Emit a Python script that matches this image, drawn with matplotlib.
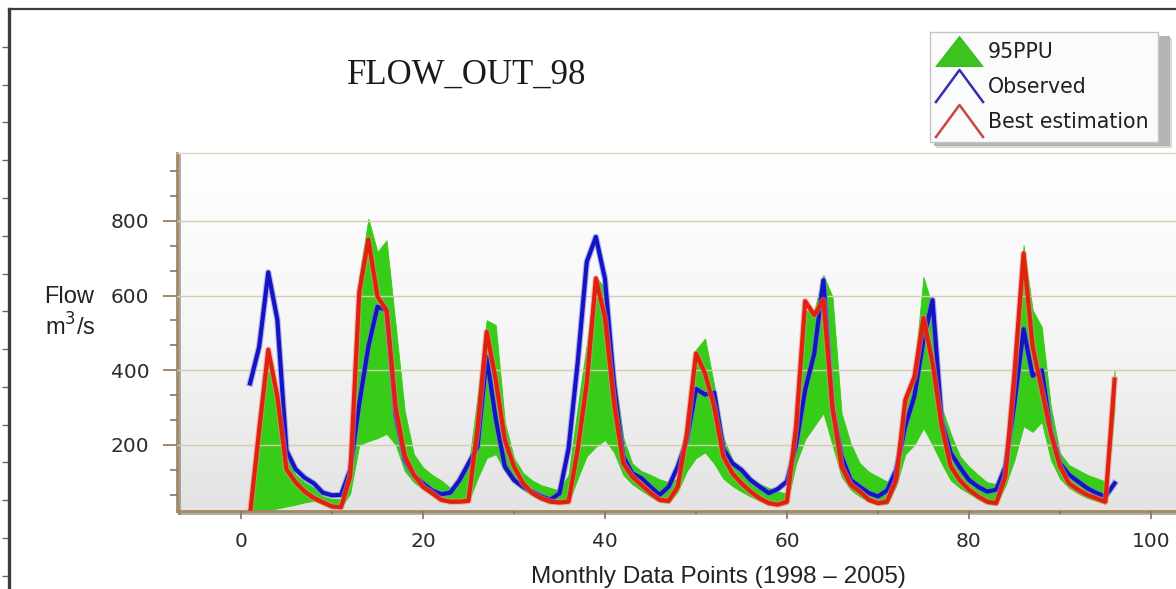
import numpy as np
import matplotlib
matplotlib.use("Agg")
import matplotlib.pyplot as plt
import matplotlib.patheffects as pe
from matplotlib.colors import LinearSegmentedColormap
from matplotlib.lines import Line2D
from matplotlib.patches import Rectangle
from matplotlib.path import Path
from matplotlib.ticker import MultipleLocator
from matplotlib.transforms import IdentityTransform

# Monthly flow at the outlet, 1998-2005 (m^3/s)
months = np.arange(1, 97)

observed = [
    365, 463, 662, 535, 185, 135, 112, 97, 72, 65, 66, 133,
    311, 463, 570, 561, 280, 160, 118, 97, 78, 68, 72, 105,
    150, 195, 436, 270, 142, 106, 88, 75, 62, 53, 70, 190,
    420, 690, 757, 645, 360, 170, 124, 111, 88, 66, 88, 142,
    213, 350, 335, 340, 190, 151, 133, 106, 88, 71, 82, 102,
    200, 347, 445, 641, 300, 170, 106, 88, 71, 62, 78, 133,
    250, 330, 480, 588, 263, 178, 140, 106, 88, 75, 80, 142,
    311, 510, 385, 400, 236, 151, 120, 102, 84, 71, 62, 97,
]

best_estimation = [
    15, 240, 455, 330, 135, 100, 75, 58, 46, 35, 33, 115,
    610, 750, 597, 561, 300, 170, 120, 88, 71, 53, 48, 48,
    50, 245, 503, 374, 213, 142, 97, 71, 57, 48, 46, 48,
    187, 365, 646, 540, 311, 151, 115, 93, 71, 53, 50, 88,
    231, 445, 391, 302, 169, 124, 97, 75, 57, 44, 40, 48,
    250, 585, 548, 588, 300, 142, 93, 75, 53, 44, 48, 106,
    320, 382, 540, 420, 250, 142, 105, 80, 62, 48, 44, 115,
    391, 713, 463, 347, 231, 142, 97, 80, 66, 57, 48, 375,
]

ppu_lower = [
    0, 18, 24, 30, 35, 40, 46, 50, 42, 33, 32, 70,
    200, 210, 218, 230, 200, 130, 100, 82, 65, 50, 45, 45,
    48, 110, 165, 175, 130, 100, 80, 65, 52, 45, 42, 45,
    110, 170, 195, 213, 180, 120, 95, 78, 62, 48, 45, 75,
    130, 165, 180, 150, 110, 90, 75, 62, 50, 40, 38, 42,
    150, 215, 250, 285, 200, 115, 80, 62, 48, 40, 42, 90,
    175, 200, 245, 200, 150, 105, 85, 70, 55, 42, 40, 90,
    160, 250, 235, 262, 160, 110, 85, 70, 58, 50, 42, 300,
]

ppu_upper = [
    15, 230, 440, 330, 170, 120, 100, 85, 62, 55, 55, 110,
    650, 806, 717, 748, 520, 290, 175, 140, 120, 105, 85, 100,
    140, 330, 534, 521, 260, 165, 125, 105, 92, 85, 78, 120,
    300, 470, 650, 620, 400, 220, 150, 130, 120, 108, 100, 110,
    240, 455, 485, 360, 220, 160, 130, 110, 95, 85, 75, 70,
    230, 560, 560, 655, 597, 285, 204, 151, 128, 115, 102, 110,
    320, 400, 650, 570, 300, 230, 170, 142, 120, 100, 95, 124,
    365, 735, 561, 516, 302, 178, 146, 133, 120, 111, 102, 400,
]

x_ticks = [0, 20, 40, 60, 80, 100]
y_ticks = [200, 400, 600, 800]
legend_labels = ["95PPU", "Observed", "Best estimation"]

W, H = 1176, 589
fig = plt.figure(figsize=(W / 100, H / 100), dpi=100)
fig.patch.set_facecolor("white")


def px_box(left, top, right, bottom):
    """Figure-fraction rectangle from pixel edges measured from the top-left."""
    return [left / W, 1 - bottom / H, (right - left) / W, (bottom - top) / H]


# Outer frame with its small tick marks along the left edge
frame = fig.add_axes(px_box(9, 9, W + 5, H + 5), zorder=0)
frame.patch.set_visible(False)
frame.set_xlim(0, 1)
frame.set_ylim(H + 5, 9)
frame.set_xticks([])
frame.set_yticks([46.7 + 37.8 * k for k in range(15)])
frame.tick_params(axis="y", direction="out", length=5, width=1.0,
                  color="#666666", labelleft=False)
for side in ("right", "bottom"):
    frame.spines[side].set_visible(False)
frame.spines["left"].set_color("#3c3c3c")
frame.spines["left"].set_linewidth(2.4)
frame.spines["top"].set_color("#3c3c3c")
frame.spines["top"].set_linewidth(1.6)

# Main plotting area
ax = fig.add_axes(px_box(177, 153.3, 1190, 511), zorder=1)

bg = LinearSegmentedColormap.from_list("bg", ["#ffffff", "#f6f6f6", "#e3e3e3"])
ax.imshow(np.linspace(0, 1, 256).reshape(-1, 1), extent=(0, 1, 0, 1),
          transform=ax.transAxes, aspect="auto", cmap=bg, zorder=0,
          interpolation="bicubic")

ax.fill_between(months, ppu_lower, ppu_upper, color="#36cc18", lw=0.6,
                edgecolor="#36cc18", zorder=2)
ax.plot(months, observed, color="#1414c4", lw=3.0, zorder=3,
        solid_joinstyle="round",
        path_effects=[pe.Stroke(linewidth=4.6, foreground="#7b7be0", alpha=0.55),
                      pe.Normal()])
ax.plot(months, best_estimation, color="#e2200e", lw=3.0, zorder=4,
        solid_joinstyle="round",
        path_effects=[pe.Stroke(linewidth=4.6, foreground="#f08a80", alpha=0.55),
                      pe.Normal()])

ax.set_xlim(-7.03, 104.29)
ax.set_ylim(23, 981)
ax.set_xticks(x_ticks)
ax.set_yticks(y_ticks)
ax.xaxis.set_minor_locator(MultipleLocator(10))
ax.yaxis.set_minor_locator(MultipleLocator(200 / 3))
ax.grid(axis="y", which="major", color="#d8ccb0", lw=1.0, zorder=1)
ax.set_axisbelow(False)

tick_col = "#8c7450"
ax.tick_params(axis="y", which="major", direction="out", length=10, width=1.2,
               color=tick_col, pad=10, labelsize=14.5, labelcolor="#2b2b2b")
ax.tick_params(axis="y", which="minor", direction="out", length=5, width=1.2,
               color=tick_col)
ax.tick_params(axis="x", which="major", direction="out", length=6, width=1.2,
               color=tick_col, pad=9, labelsize=14.5, labelcolor="#2b2b2b")
ax.tick_params(axis="x", which="minor", direction="out", length=2.5, width=1.2,
               color=tick_col)

ax.spines["right"].set_visible(False)
ax.spines["top"].set_color("#e0d4b8")
ax.spines["top"].set_linewidth(1.0)
for side in ("left", "bottom"):
    sp = ax.spines[side]
    sp.set_color("#a48a5e")
    sp.set_linewidth(2.0)
    sp.set_path_effects([pe.SimpleLineShadow(offset=(1.2, -1.2),
                                             shadow_color="#555555", alpha=0.5),
                         pe.Normal()])

ax.set_xlabel("Monthly Data Points (1998 \u2013 2005)", family="Liberation Sans",
              fontsize=17.5, color="#222222")
ax.xaxis.label.set_va("baseline")
ax.xaxis.set_label_coords((718 - 177) / (1190 - 177), -(583 - 511) / (511 - 153.3))

# Axis title on the left, two lines
fig.text(44 / W, 1 - 303 / H, "Flow", family="Liberation Sans", fontsize=17,
         color="#222222", ha="left", va="baseline")
fig.text(45 / W, 1 - 336 / H, "m$^3$/s", family="Liberation Sans", fontsize=17,
         color="#222222", ha="left", va="baseline")

# Chart title
fig.text(347 / W, 1 - 84 / H, "FLOW_OUT_98", family="Liberation Serif",
         fontsize=25, color="#1a1a1a", ha="left", va="baseline")

# Legend with triangle / caret symbols
tri = Path([(-1, -0.64), (0, 0.64), (1, -0.64), (-1, -0.64)],
           [Path.MOVETO, Path.LINETO, Path.LINETO, Path.CLOSEPOLY])
caret = Path([(-1, -0.68), (0, 0.68), (1, -0.68)],
             [Path.MOVETO, Path.LINETO, Path.LINETO])
handles = [
    Line2D([], [], ls="none", marker=tri, markersize=34,
           markerfacecolor="#3cc41e", markeredgecolor="#2fb012",
           markeredgewidth=0.6),
    Line2D([], [], ls="none", marker=caret, markersize=35,
           markerfacecolor="none", markeredgecolor="#3030b0",
           markeredgewidth=1.8),
    Line2D([], [], ls="none", marker=caret, markersize=35,
           markerfacecolor="none", markeredgecolor="#c84646",
           markeredgewidth=1.8),
]
leg = fig.legend(handles, legend_labels, loc="upper left",
                 bbox_to_anchor=(930 / W, 1 - 32 / H),
                 bbox_transform=fig.transFigure, frameon=True, fancybox=False,
                 edgecolor="#c4c4c4", facecolor="#fbfbfb", framealpha=1,
                 borderpad=0.5, labelspacing=0.72, handlelength=1.8,
                 handletextpad=0.5, borderaxespad=0, numpoints=1,
                 prop={"family": "DejaVu Sans", "size": 14.8})
for t in leg.get_texts():
    t.set_color("#202020")
leg.get_frame().set_linewidth(1.0)
leg.set_zorder(10)

# Soft drop shadow behind the legend box
fig.canvas.draw()
bb = leg.get_window_extent()
for off, col, a in [(6, "#d6d6d6", 0.9), (4, "#b0b0b0", 0.9)]:
    fig.add_artist(Rectangle((bb.x0 + off, bb.y0 - off), bb.width + 8, bb.height,
                             transform=IdentityTransform(), facecolor=col,
                             edgecolor="none", alpha=a, zorder=9))
# widen the frame slightly so it reaches the right-hand margin of the text
frame_patch = leg.get_frame()
frame_patch.set_width(frame_patch.get_width() + 8)

fig.savefig("out.png", dpi=100)
